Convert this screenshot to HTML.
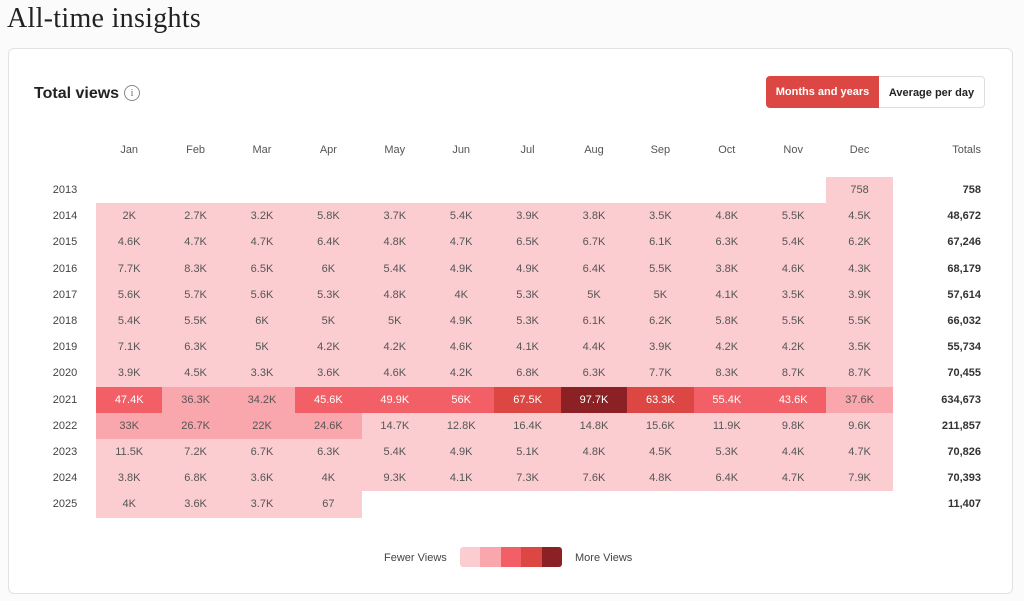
<!DOCTYPE html>
<html><head><meta charset="utf-8"><style>
body{margin:0;width:1024px;height:601px;background:#fbfbfb;font-family:"Liberation Sans",sans-serif;position:relative;overflow:hidden}
h1{position:absolute;left:7px;top:3px;margin:0;font:400 28px "Liberation Serif",serif;color:#222;letter-spacing:0.3px}
.card{position:absolute;left:8px;top:48px;width:1003px;height:544px;background:#fff;border:1px solid #e2e2e2;border-radius:6px}
.tv{position:absolute;left:34px;top:85px;font-size:16px;font-weight:bold;color:#222}
.info{position:absolute;left:124px;top:85px;width:14px;height:14px;border:1px solid #888;border-radius:50%;font:11px "Liberation Serif",serif;color:#777;text-align:center;line-height:14px}
.btn{position:absolute;top:76px;height:32px;line-height:32px;font-size:11px;font-weight:bold;text-align:center;box-sizing:border-box}
.b1{left:766px;width:113px;background:#dd4743;color:#fff;border-radius:4px 0 0 4px}
.b2{left:879px;width:106px;background:#fff;color:#222;border:1px solid #ddd;border-left:none;border-radius:0 4px 4px 0}
.mh{position:absolute;top:144px;width:66.4px;text-align:center;font-size:11px;color:#555}
.row{position:absolute;left:0;height:26.2px;width:1024px;font-size:11px}
.row .y{position:absolute;left:40px;width:50px;text-align:center;line-height:27px;color:#444}
.row .t{position:absolute;left:900px;width:81px;text-align:right;line-height:27px;font-weight:bold;color:#333}
.c{position:absolute;top:0;width:66.4px;height:26.2px;line-height:27px;text-align:center;color:#555;background:#fbcdd1}
.l2{background:#f9a6ac}.l3{background:#f35f66;color:#fff}.l4{background:#dd4743;color:#fff}.l5{background:#8b2125;color:#fff}
.lg{position:absolute;top:552px;font-size:11px;color:#444}
.sw{position:absolute;top:547px;height:20px;width:20.4px}
</style></head><body>
<h1>All-time insights</h1>
<div class="card"></div>
<div class="tv">Total views</div><div class="info">i</div>
<div class="btn b1">Months and years</div><div class="btn b2">Average per day</div>
<div class="mh" style="left:96px">Jan</div><div class="mh" style="left:162.4px">Feb</div><div class="mh" style="left:228.8px">Mar</div><div class="mh" style="left:295.2px">Apr</div><div class="mh" style="left:361.6px">May</div><div class="mh" style="left:428px">Jun</div><div class="mh" style="left:494.4px">Jul</div><div class="mh" style="left:560.8px">Aug</div><div class="mh" style="left:627.2px">Sep</div><div class="mh" style="left:693.6px">Oct</div><div class="mh" style="left:760px">Nov</div><div class="mh" style="left:826.4px">Dec</div>
<div class="mh" style="left:900px;width:81px;text-align:right">Totals</div>

<div class="row" style="top:177px"><div class="y">2013</div><div class="c" style="left:826.4px">758</div><div class="t">758</div></div>

<div class="row" style="top:203.2px"><div class="y">2014</div><div class="c" style="left:96px">2K</div><div class="c" style="left:162.4px">2.7K</div><div class="c" style="left:228.8px">3.2K</div><div class="c" style="left:295.2px">5.8K</div><div class="c" style="left:361.6px">3.7K</div><div class="c" style="left:428px">5.4K</div><div class="c" style="left:494.4px">3.9K</div><div class="c" style="left:560.8px">3.8K</div><div class="c" style="left:627.2px">3.5K</div><div class="c" style="left:693.6px">4.8K</div><div class="c" style="left:760px">5.5K</div><div class="c" style="left:826.4px">4.5K</div><div class="t">48,672</div></div>

<div class="row" style="top:229.4px"><div class="y">2015</div><div class="c" style="left:96px">4.6K</div><div class="c" style="left:162.4px">4.7K</div><div class="c" style="left:228.8px">4.7K</div><div class="c" style="left:295.2px">6.4K</div><div class="c" style="left:361.6px">4.8K</div><div class="c" style="left:428px">4.7K</div><div class="c" style="left:494.4px">6.5K</div><div class="c" style="left:560.8px">6.7K</div><div class="c" style="left:627.2px">6.1K</div><div class="c" style="left:693.6px">6.3K</div><div class="c" style="left:760px">5.4K</div><div class="c" style="left:826.4px">6.2K</div><div class="t">67,246</div></div>

<div class="row" style="top:255.6px"><div class="y">2016</div><div class="c" style="left:96px">7.7K</div><div class="c" style="left:162.4px">8.3K</div><div class="c" style="left:228.8px">6.5K</div><div class="c" style="left:295.2px">6K</div><div class="c" style="left:361.6px">5.4K</div><div class="c" style="left:428px">4.9K</div><div class="c" style="left:494.4px">4.9K</div><div class="c" style="left:560.8px">6.4K</div><div class="c" style="left:627.2px">5.5K</div><div class="c" style="left:693.6px">3.8K</div><div class="c" style="left:760px">4.6K</div><div class="c" style="left:826.4px">4.3K</div><div class="t">68,179</div></div>

<div class="row" style="top:281.8px"><div class="y">2017</div><div class="c" style="left:96px">5.6K</div><div class="c" style="left:162.4px">5.7K</div><div class="c" style="left:228.8px">5.6K</div><div class="c" style="left:295.2px">5.3K</div><div class="c" style="left:361.6px">4.8K</div><div class="c" style="left:428px">4K</div><div class="c" style="left:494.4px">5.3K</div><div class="c" style="left:560.8px">5K</div><div class="c" style="left:627.2px">5K</div><div class="c" style="left:693.6px">4.1K</div><div class="c" style="left:760px">3.5K</div><div class="c" style="left:826.4px">3.9K</div><div class="t">57,614</div></div>

<div class="row" style="top:308px"><div class="y">2018</div><div class="c" style="left:96px">5.4K</div><div class="c" style="left:162.4px">5.5K</div><div class="c" style="left:228.8px">6K</div><div class="c" style="left:295.2px">5K</div><div class="c" style="left:361.6px">5K</div><div class="c" style="left:428px">4.9K</div><div class="c" style="left:494.4px">5.3K</div><div class="c" style="left:560.8px">6.1K</div><div class="c" style="left:627.2px">6.2K</div><div class="c" style="left:693.6px">5.8K</div><div class="c" style="left:760px">5.5K</div><div class="c" style="left:826.4px">5.5K</div><div class="t">66,032</div></div>

<div class="row" style="top:334.2px"><div class="y">2019</div><div class="c" style="left:96px">7.1K</div><div class="c" style="left:162.4px">6.3K</div><div class="c" style="left:228.8px">5K</div><div class="c" style="left:295.2px">4.2K</div><div class="c" style="left:361.6px">4.2K</div><div class="c" style="left:428px">4.6K</div><div class="c" style="left:494.4px">4.1K</div><div class="c" style="left:560.8px">4.4K</div><div class="c" style="left:627.2px">3.9K</div><div class="c" style="left:693.6px">4.2K</div><div class="c" style="left:760px">4.2K</div><div class="c" style="left:826.4px">3.5K</div><div class="t">55,734</div></div>

<div class="row" style="top:360.4px"><div class="y">2020</div><div class="c" style="left:96px">3.9K</div><div class="c" style="left:162.4px">4.5K</div><div class="c" style="left:228.8px">3.3K</div><div class="c" style="left:295.2px">3.6K</div><div class="c" style="left:361.6px">4.6K</div><div class="c" style="left:428px">4.2K</div><div class="c" style="left:494.4px">6.8K</div><div class="c" style="left:560.8px">6.3K</div><div class="c" style="left:627.2px">7.7K</div><div class="c" style="left:693.6px">8.3K</div><div class="c" style="left:760px">8.7K</div><div class="c" style="left:826.4px">8.7K</div><div class="t">70,455</div></div>

<div class="row" style="top:386.6px"><div class="y">2021</div><div class="c l3" style="left:96px">47.4K</div><div class="c l2" style="left:162.4px">36.3K</div><div class="c l2" style="left:228.8px">34.2K</div><div class="c l3" style="left:295.2px">45.6K</div><div class="c l3" style="left:361.6px">49.9K</div><div class="c l3" style="left:428px">56K</div><div class="c l4" style="left:494.4px">67.5K</div><div class="c l5" style="left:560.8px">97.7K</div><div class="c l4" style="left:627.2px">63.3K</div><div class="c l3" style="left:693.6px">55.4K</div><div class="c l3" style="left:760px">43.6K</div><div class="c l2" style="left:826.4px">37.6K</div><div class="t">634,673</div></div>

<div class="row" style="top:412.8px"><div class="y">2022</div><div class="c l2" style="left:96px">33K</div><div class="c l2" style="left:162.4px">26.7K</div><div class="c l2" style="left:228.8px">22K</div><div class="c l2" style="left:295.2px">24.6K</div><div class="c" style="left:361.6px">14.7K</div><div class="c" style="left:428px">12.8K</div><div class="c" style="left:494.4px">16.4K</div><div class="c" style="left:560.8px">14.8K</div><div class="c" style="left:627.2px">15.6K</div><div class="c" style="left:693.6px">11.9K</div><div class="c" style="left:760px">9.8K</div><div class="c" style="left:826.4px">9.6K</div><div class="t">211,857</div></div>

<div class="row" style="top:439px"><div class="y">2023</div><div class="c" style="left:96px">11.5K</div><div class="c" style="left:162.4px">7.2K</div><div class="c" style="left:228.8px">6.7K</div><div class="c" style="left:295.2px">6.3K</div><div class="c" style="left:361.6px">5.4K</div><div class="c" style="left:428px">4.9K</div><div class="c" style="left:494.4px">5.1K</div><div class="c" style="left:560.8px">4.8K</div><div class="c" style="left:627.2px">4.5K</div><div class="c" style="left:693.6px">5.3K</div><div class="c" style="left:760px">4.4K</div><div class="c" style="left:826.4px">4.7K</div><div class="t">70,826</div></div>

<div class="row" style="top:465.2px"><div class="y">2024</div><div class="c" style="left:96px">3.8K</div><div class="c" style="left:162.4px">6.8K</div><div class="c" style="left:228.8px">3.6K</div><div class="c" style="left:295.2px">4K</div><div class="c" style="left:361.6px">9.3K</div><div class="c" style="left:428px">4.1K</div><div class="c" style="left:494.4px">7.3K</div><div class="c" style="left:560.8px">7.6K</div><div class="c" style="left:627.2px">4.8K</div><div class="c" style="left:693.6px">6.4K</div><div class="c" style="left:760px">4.7K</div><div class="c" style="left:826.4px">7.9K</div><div class="t">70,393</div></div>

<div class="row" style="top:491.4px"><div class="y">2025</div><div class="c" style="left:96px">4K</div><div class="c" style="left:162.4px">3.6K</div><div class="c" style="left:228.8px">3.7K</div><div class="c" style="left:295.2px">67</div><div class="t">11,407</div></div>

<div class="lg" style="left:384px">Fewer Views</div>
<div style="position:absolute;left:460px;top:547px;width:102px;height:20px;border-radius:3px;overflow:hidden">
<div class="sw" style="left:0;top:0;background:#fbcdd1"></div><div class="sw" style="left:20.4px;top:0;background:#f9a6ac"></div><div class="sw" style="left:40.8px;top:0;background:#f35f66"></div><div class="sw" style="left:61.2px;top:0;background:#dd4743"></div><div class="sw" style="left:81.6px;top:0;background:#8b2125"></div></div>
<div class="lg" style="left:575px">More Views</div>
</body></html>
